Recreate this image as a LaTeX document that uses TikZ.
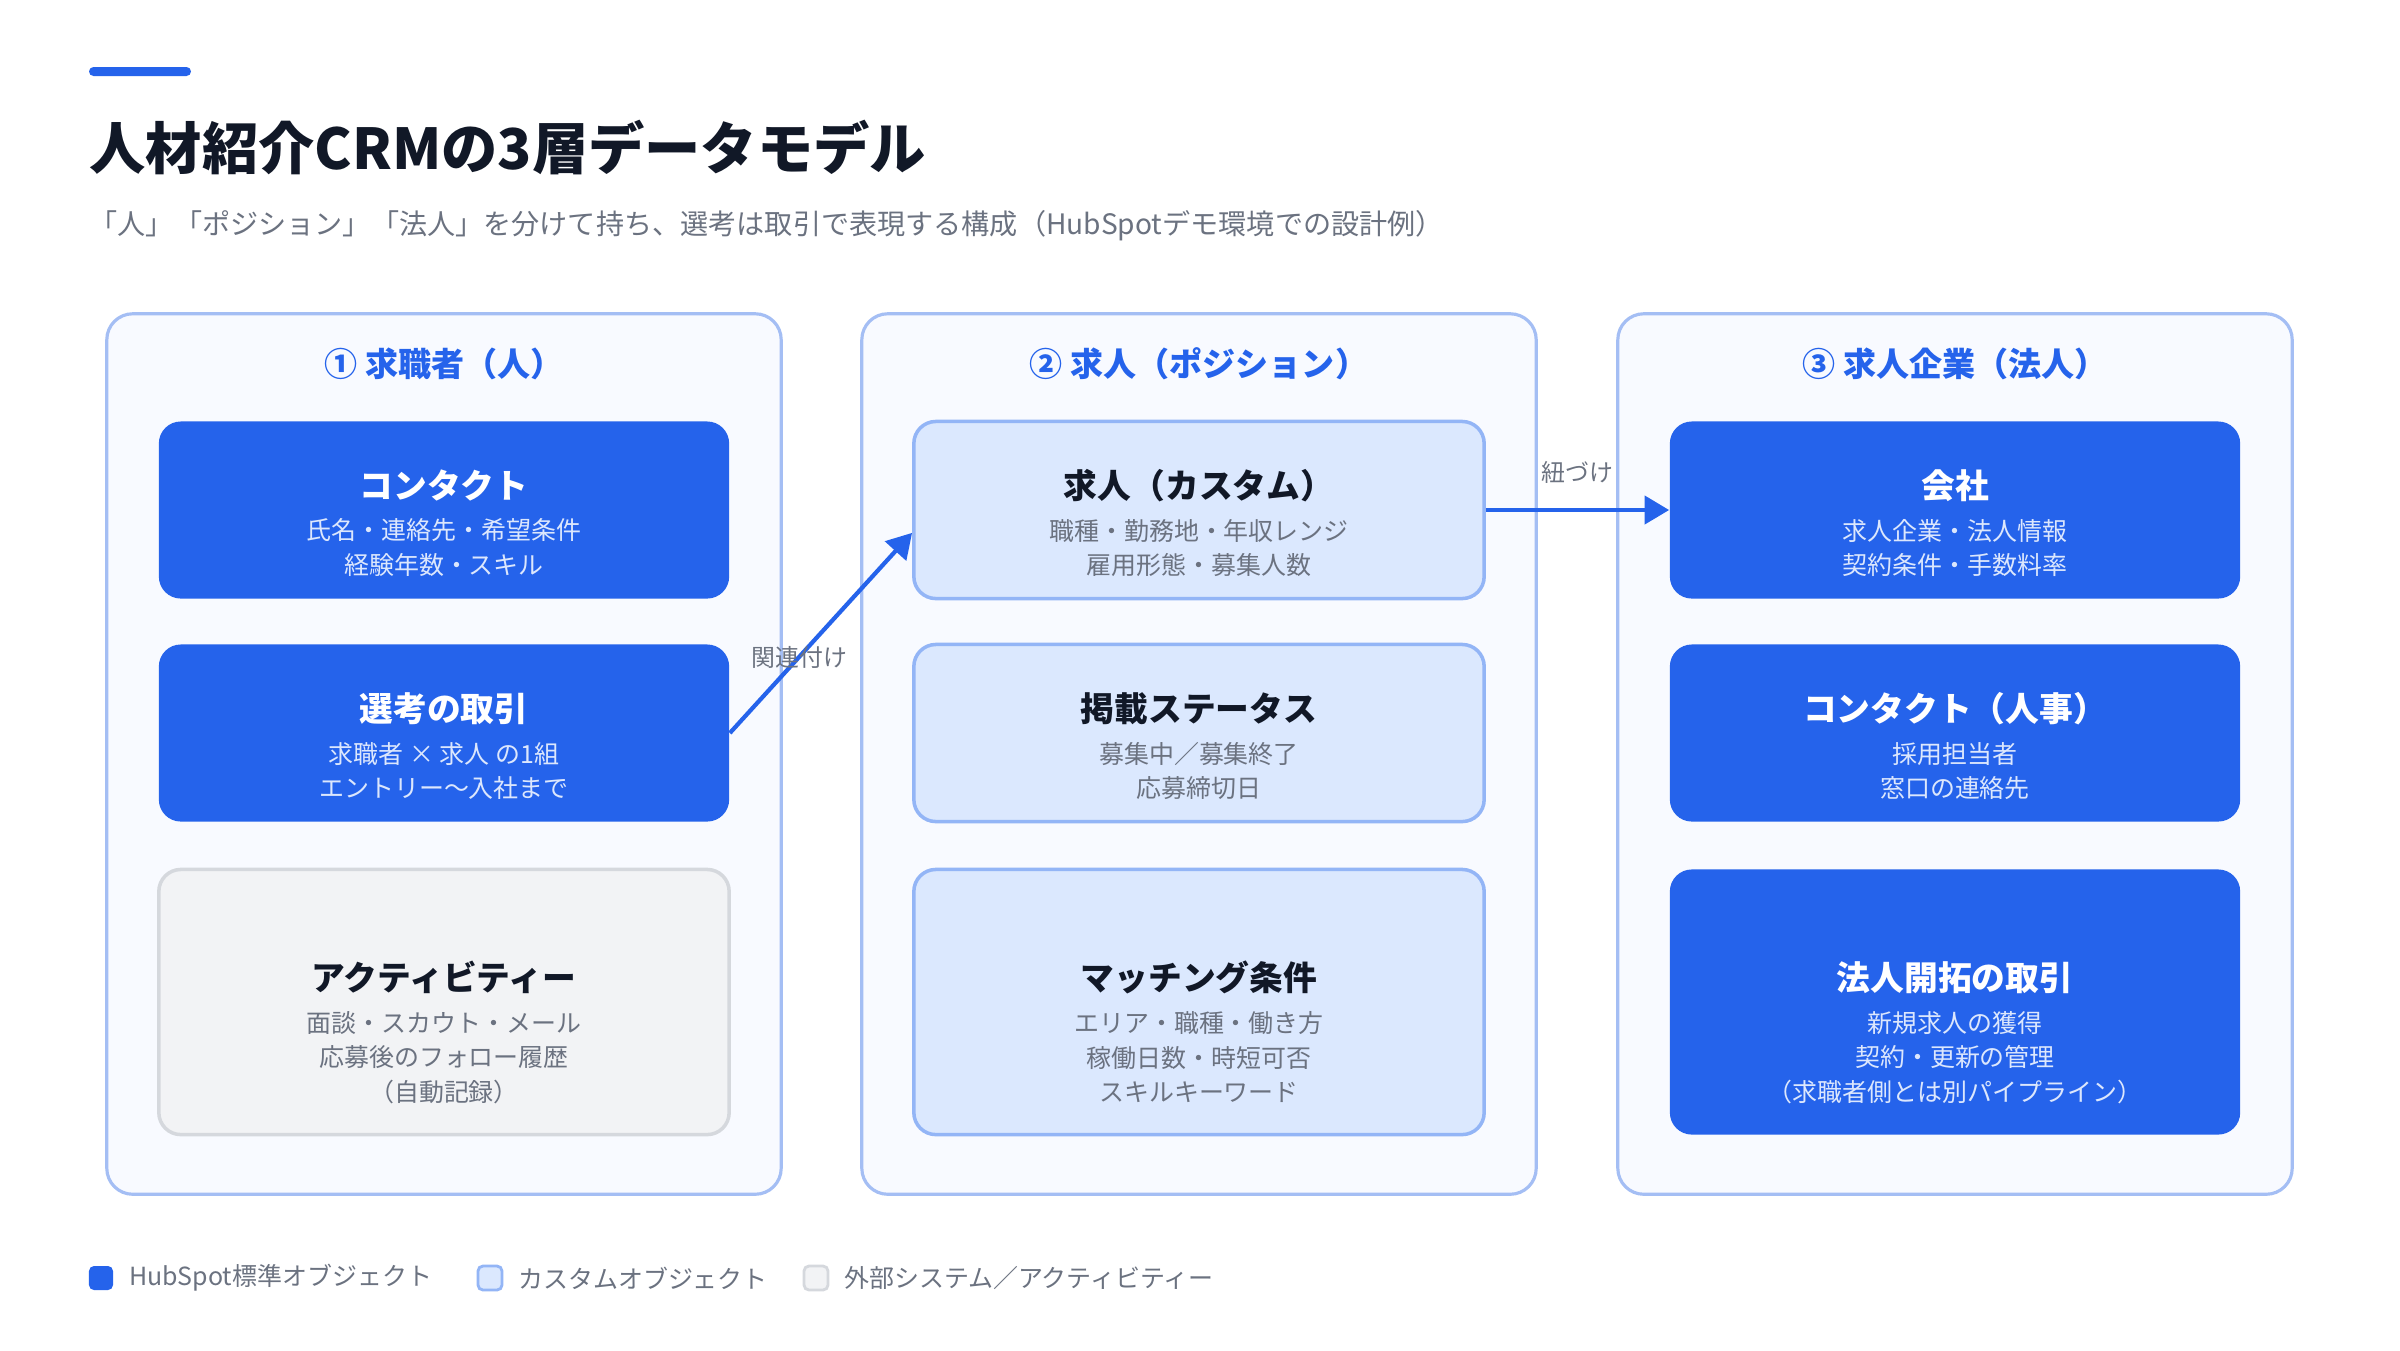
\documentclass[tikz,border=0pt]{standalone}
\usepackage{fontspec}
\setmainfont{Noto Sans CJK JP}
\usetikzlibrary{positioning,arrows.meta}

\definecolor{hsblue}{HTML}{2563EB}
\definecolor{ink}{HTML}{111827}
\definecolor{mute}{HTML}{6B7280}
\definecolor{paleblue}{HTML}{DCE7FD}
\definecolor{panelbg}{HTML}{F8FAFF}
\definecolor{panelline}{HTML}{A4BEF4}
\definecolor{custbg}{HTML}{DBE8FE}
\definecolor{custline}{HTML}{93B5F6}
\definecolor{extbg}{HTML}{F2F3F5}
\definecolor{extline}{HTML}{D5D8DD}

\begin{document}
\begin{tikzpicture}
  [x=0.01cm,y=-0.01cm,
   panel/.style={draw=panelline,fill=panelbg,line width=0.9pt,rounded corners=0.26cm,
     minimum width=6.74cm,minimum height=8.8cm,inner sep=0},
   obj/.style={rounded corners=0.22cm,minimum width=5.7cm,minimum height=1.77cm,inner sep=0},
   std/.style={obj,fill=hsblue},
   cust/.style={obj,draw=custline,fill=custbg,line width=1pt},
   ext/.style={obj,draw=extline,fill=extbg,line width=1pt},
   tallbox/.style={minimum height=2.65cm},
   ptitle/.style={text=hsblue,inner sep=0,font=\fontsize{9.4}{11}\selectfont\bfseries},
   head/.style={inner sep=0,text=ink,font=\fontsize{9.6}{12}\selectfont\bfseries},
   body/.style={inner sep=0,text=mute,align=center,font=\fontsize{7.1}{9.8}\selectfont},
   headw/.style={head,text=white},
   bodyw/.style={body,text=paleblue},
   link/.style={-{Triangle[length=7pt,width=8pt]},draw=hsblue,line width=1.2pt},
   linklabel/.style={text=mute,inner sep=1pt,font=\fontsize{6.8}{8}\selectfont},
   legsq/.style={minimum size=0.24cm,inner sep=0,rounded corners=0.05cm,line width=0.8pt},
   legtxt/.style={text=mute,inner sep=0,font=\fontsize{7.1}{8}\selectfont}]

  \useasboundingbox (0,0) rectangle (2400,1350);
  \fill[white] (0,0) rectangle (2400,1350);

  % heading
  \fill[hsblue,rounded corners=0.045cm] (89,67) rectangle (191,76);
  \node[anchor=west,inner sep=0,text=ink,font=\fontsize{16}{19}\selectfont\bfseries]
    (title) at (89,147) {人材紹介CRMの3層データモデル};
  \node[anchor=west,inner sep=0,text=mute,font=\fontsize{8}{10}\selectfont]
    (subtitle) at (89,226)
    {「人」「ポジション」「法人」を分けて持ち、選考は取引で表現する構成（HubSpotデモ環境での設計例）};

  % three layers
  \node[panel] (seeker) at (444,754) {};
  \node[panel] (job) at (1199,754) {};
  \node[panel] (corp) at (1955,754) {};
  \node[ptitle] (seeker-t) at (444,364) {① 求職者（人）};
  \node[ptitle] (job-t) at (1199,364) {② 求人（ポジション）};
  \node[ptitle] (corp-t) at (1955,364) {③ 求人企業（法人）};

  % layer 1
  \node[std] (contact) at (444,510) {};
  \node[headw] (contact-h) at ([yshift=7pt]contact.center) {コンタクト};
  \node[bodyw,below=4.6pt of contact-h] (contact-b) {氏名・連絡先・希望条件\\経験年数・スキル};

  \node[std] (deal) at (444,733) {};
  \node[headw] (deal-h) at ([yshift=7pt]deal.center) {選考の取引};
  \node[bodyw,below=4.6pt of deal-h] (deal-b) {求職者 × 求人 の1組\\エントリー〜入社まで};

  \node[ext,tallbox] (activity) at (444,1002) {};
  \node[head] (activity-h) at ([yshift=7pt]activity.center) {アクティビティー};
  \node[body,below=4.6pt of activity-h] (activity-b)
    {面談・スカウト・メール\\応募後のフォロー履歴\\（自動記録）};

  % layer 2
  \node[cust] (posting) at (1199,510) {};
  \node[head] (posting-h) at ([yshift=7pt]posting.center) {求人（カスタム）};
  \node[body,below=4.6pt of posting-h] (posting-b) {職種・勤務地・年収レンジ\\雇用形態・募集人数};

  \node[cust] (status) at (1199,733) {};
  \node[head] (status-h) at ([yshift=7pt]status.center) {掲載ステータス};
  \node[body,below=4.6pt of status-h] (status-b) {募集中／募集終了\\応募締切日};

  \node[cust,tallbox] (match) at (1199,1002) {};
  \node[head] (match-h) at ([yshift=7pt]match.center) {マッチング条件};
  \node[body,below=4.6pt of match-h] (match-b)
    {エリア・職種・働き方\\稼働日数・時短可否\\スキルキーワード};

  % layer 3
  \node[std] (company) at (1955,510) {};
  \node[headw] (company-h) at ([yshift=7pt]company.center) {会社};
  \node[bodyw,below=4.6pt of company-h] (company-b) {求人企業・法人情報\\契約条件・手数料率};

  \node[std] (hr) at (1955,733) {};
  \node[headw] (hr-h) at ([yshift=7pt]hr.center) {コンタクト（人事）};
  \node[bodyw,below=4.6pt of hr-h] (hr-b) {採用担当者\\窓口の連絡先};

  \node[std,tallbox] (bizdeal) at (1955,1002) {};
  \node[headw] (bizdeal-h) at ([yshift=7pt]bizdeal.center) {法人開拓の取引};
  \node[bodyw,below=4.6pt of bizdeal-h] (bizdeal-b)
    {新規求人の獲得\\契約・更新の管理\\（求職者側とは別パイプライン）};

  % associations
  \draw[link] (deal.east) -- node[pos=0.38,linklabel] {関連付け} ([yshift=-6.5pt]posting.west);
  \draw[link] (posting.east) -- node[midway,above=6pt,linklabel] {紐づけ} (company.west);

  % legend
  \node[legsq,fill=hsblue] (key-std) at (101,1278) {};
  \node[legtxt,right=4pt of key-std] (key-std-t) {HubSpot標準オブジェクト};
  \node[legsq,draw=custline,fill=custbg] (key-cust) at (490,1278) {};
  \node[legtxt,right=4pt of key-cust] (key-cust-t) {カスタムオブジェクト};
  \node[legsq,draw=extline,fill=extbg] (key-ext) at (816,1278) {};
  \node[legtxt,right=4pt of key-ext] (key-ext-t) {外部システム／アクティビティー};
\end{tikzpicture}
\end{document}
